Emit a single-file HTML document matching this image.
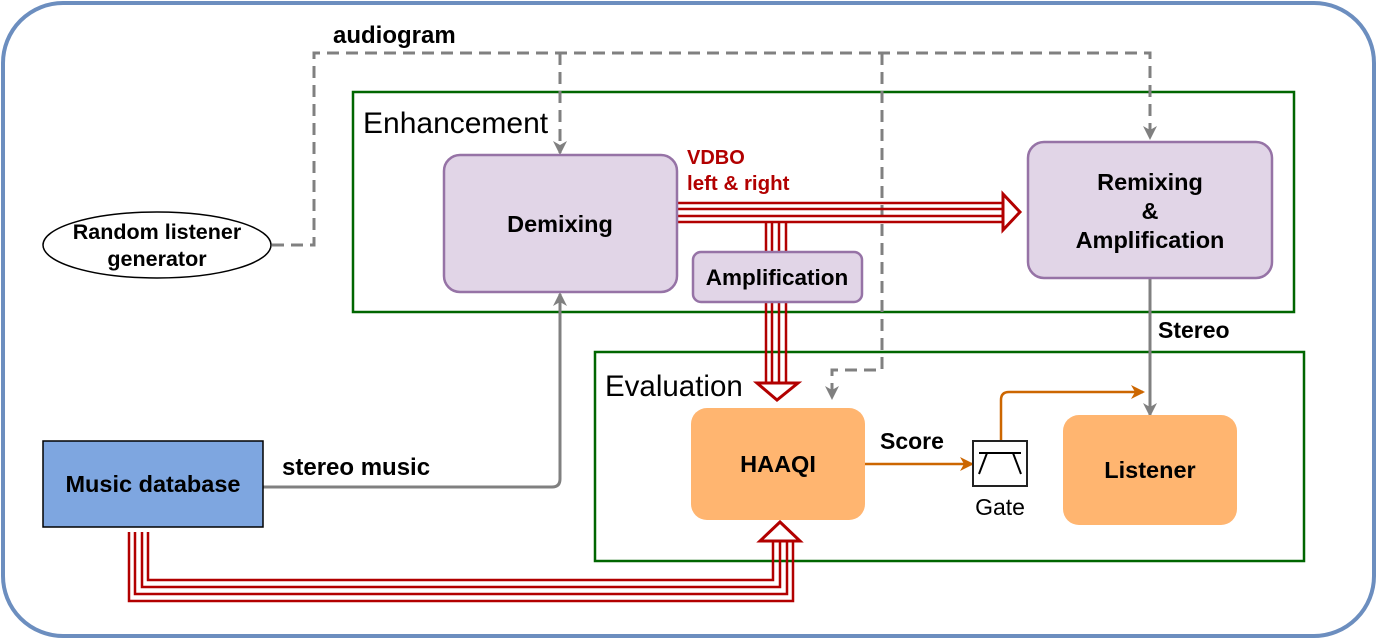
<!DOCTYPE html><html><head><style>body{margin:0;background:#fff}svg{display:block}text{font-family:"Liberation Sans",sans-serif}</style></head><body>
<svg width="1377" height="640" viewBox="0 0 1377 640" xmlns="http://www.w3.org/2000/svg">
<defs>
<marker id="ga" markerWidth="14" markerHeight="14" refX="12" refY="7" orient="auto" markerUnits="userSpaceOnUse"><path d="M0,0 L14,7 L0,14 L4,7 z" fill="#808080"/></marker>
<marker id="oa" markerWidth="14" markerHeight="14" refX="12" refY="7" orient="auto" markerUnits="userSpaceOnUse"><path d="M0,0 L14,7 L0,14 L4,7 z" fill="#cc6600"/></marker>
</defs>
<rect x="3" y="3" width="1371" height="633" rx="60" fill="#fff" stroke="#6c8ebf" stroke-width="4"/>
<rect x="353" y="92" width="941" height="220" fill="none" stroke="#006600" stroke-width="2.5"/>
<rect x="595" y="352" width="709" height="209" fill="none" stroke="#006600" stroke-width="2.5"/>
<text x="363" y="133" font-size="30">Enhancement</text>
<text x="605" y="396" font-size="29.5">Evaluation</text>
<g fill="none" stroke="#808080" stroke-width="3" stroke-dasharray="12,7">
<path d="M272,245 H314 V53 H1150 V138" marker-end="url(#ga)"/>
<path d="M560,53 V153" marker-end="url(#ga)"/>
<path d="M882,53 V370 H832 V398" marker-end="url(#ga)"/>
</g>
<text x="333" y="43" font-size="24" font-weight="bold">audiogram</text>
<g fill="none" stroke="#808080" stroke-width="3">
<path d="M263,487 H552 Q560,487 560,479 V294" marker-end="url(#ga)"/>
<path d="M1150,278 V415" marker-end="url(#ga)"/>
</g>
<g fill="none" stroke="#b20000" stroke-width="2.5">
<path d="M678,203H1003M678,209H1003M678,216H1003M678,222H1003"/>
<path d="M766,222V252M772,222V252M779,222V252M786,222V252"/>
<path d="M766,302V383M772,302V383M779,302V383M786,302V383"/>
<path d="M129,532V601H793V541M135,532V594H787V541M142,532V587H780V541M148,532V580H773V541"/>
<path d="M1003,194 L1020,212 L1003,230 Z" fill="#fff" stroke-width="3"/>
<path d="M757,383 L798,383 L777,400 Z" fill="#fff" stroke-width="3"/>
<path d="M760,541 L800,541 L780,522 Z" fill="#fff" stroke-width="3"/>
</g>
<text x="687" y="164" font-size="20" font-weight="bold" fill="#b20000">VDBO</text>
<text x="687" y="190" font-size="20.5" font-weight="bold" fill="#b20000">left &amp; right</text>
<g fill="none" stroke="#cc6600" stroke-width="2.5">
<path d="M865,464 H972" marker-end="url(#oa)"/>
<path d="M1001,441 V400 Q1001,392 1009,392 H1143" marker-end="url(#oa)"/>
</g>
<ellipse cx="157" cy="245" rx="114" ry="33" fill="#fff" stroke="#000" stroke-width="1.5"/>
<text x="157" y="239" font-size="21.5" font-weight="bold" text-anchor="middle">Random listener</text>
<text x="157" y="266" font-size="21.5" font-weight="bold" text-anchor="middle">generator</text>
<rect x="444" y="155" width="233" height="137" rx="16" fill="#e1d5e7" stroke="#9673a6" stroke-width="2.5"/>
<text x="560" y="232" font-size="23.5" font-weight="bold" text-anchor="middle">Demixing</text>
<rect x="693" y="252" width="169" height="50" rx="8" fill="#e1d5e7" stroke="#9673a6" stroke-width="2.5"/>
<text x="777" y="285" font-size="22.5" font-weight="bold" text-anchor="middle">Amplification</text>
<rect x="1028" y="142" width="244" height="136" rx="16" fill="#e1d5e7" stroke="#9673a6" stroke-width="2.5"/>
<text x="1150" y="190" font-size="23.5" font-weight="bold" text-anchor="middle">Remixing</text>
<text x="1150" y="219" font-size="23.5" font-weight="bold" text-anchor="middle">&amp;</text>
<text x="1150" y="248" font-size="23.5" font-weight="bold" text-anchor="middle">Amplification</text>
<rect x="691" y="408" width="174" height="112" rx="16" fill="#ffb570"/>
<text x="778" y="472" font-size="23.5" font-weight="bold" text-anchor="middle">HAAQI</text>
<rect x="1063" y="415" width="174" height="110" rx="16" fill="#ffb570"/>
<text x="1150" y="478" font-size="23.5" font-weight="bold" text-anchor="middle">Listener</text>
<rect x="43" y="441" width="220" height="86" fill="#7ea6e0" stroke="#000" stroke-width="1.5"/>
<text x="153" y="492" font-size="23.5" font-weight="bold" text-anchor="middle">Music database</text>
<rect x="973" y="441" width="54" height="45" fill="#fff" stroke="#222" stroke-width="2"/>
<path d="M979,453 H1021 M987,453 L979,474 M1013,453 L1021,474" stroke="#000" stroke-width="2" fill="none"/>
<text x="1000" y="515" font-size="23" text-anchor="middle">Gate</text>
<text x="1158" y="338" font-size="23" font-weight="bold">Stereo</text>
<text x="880" y="449" font-size="23" font-weight="bold">Score</text>
<text x="282" y="475" font-size="24" font-weight="bold">stereo music</text>
</svg></body></html>
